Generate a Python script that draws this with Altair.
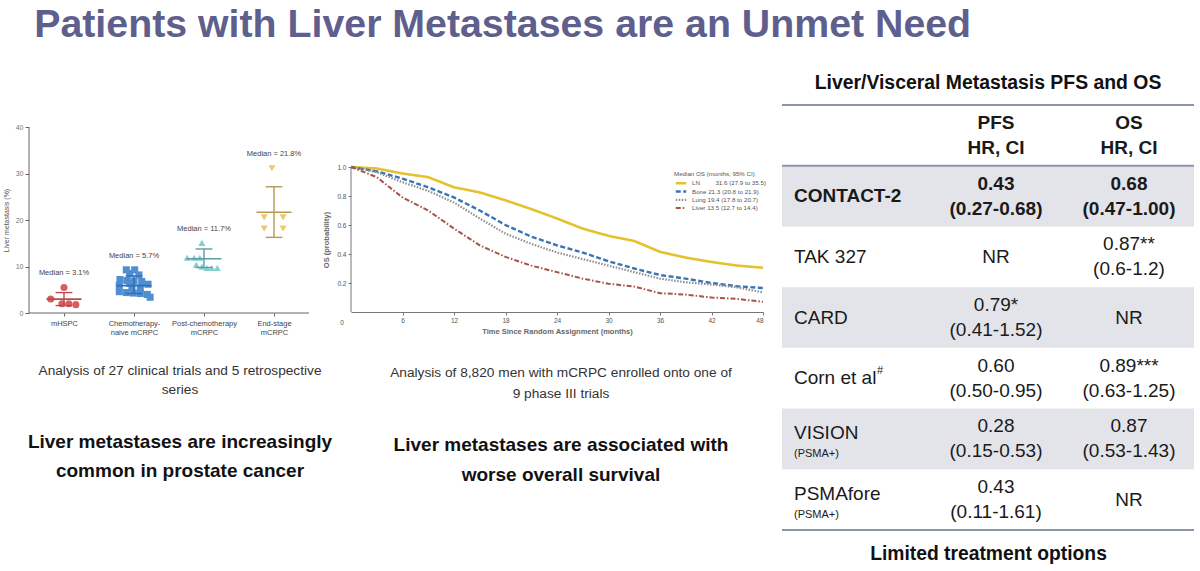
import altair as alt
import pandas as pd

NARROW = "Liberation Sans Narrow, Arial Narrow, Liberation Sans, sans-serif"
SANS = "Liberation Sans, Arial, sans-serif"

# ---------------- Left panel: liver metastasis prevalence ----------------
categories = ["mHSPC", "Chemotherapy-|naive mCRPC", "Post-chemotherapy|mCRPC", "End-stage|mCRPC"]
mhspc_vals = [5.5, 3.0, 2.0, 2.0, 1.8]
mhspc_jit = [0.0, -0.19, -0.03, 0.07, 0.17]
naive_vals = [9.3, 9.3, 8.5, 8.2, 7.2, 7.0, 6.9, 6.8, 6.2, 6.0, 6.4, 5.6, 5.4, 4.6, 4.4, 4.3, 4.2, 4.0, 3.4]
naive_jit = [-0.11, 0.01, -0.06, 0.07, -0.2, -0.1, 0.0, 0.11, 0.2, -0.21, -0.06, -0.03, 0.09, -0.21, -0.11, -0.01, 0.09, 0.19, 0.23]
post_vals = [15.1, 11.9, 11.9, 11.9, 10.4, 10.0, 9.7, 9.7, 9.7]
post_jit = [-0.03, -0.24, -0.14, -0.06, -0.11, -0.03, 0.04, 0.11, 0.19]
end_vals = [31.2, 20.6, 20.6, 18.2, 18.2]
end_jit = [-0.03, -0.14, 0.13, -0.14, 0.13]
medians = [3.0, 5.9, 11.7, 21.7]
err_low = [1.6, 4.2, 9.8, 16.3]
err_high = [4.4, 8.0, 13.8, 27.2]
median_text = ["Median = 3.1%", "Median = 5.7%", "Median = 11.7%", "Median = 21.8%"]

pt_colors = ["#d35f5f", "#4f8fd1", "#84cfd2", "#ecc96b"]
bar_colors = ["#c0474b", "#2f6fb3", "#5c9ca2", "#b39a55"]
shapes = ["circle", "square", "triangle-up", "triangle-down"]

groups = [(mhspc_vals, mhspc_jit), (naive_vals, naive_jit), (post_vals, post_jit), (end_vals, end_jit)]
pts = []
for i, (vals, jits) in enumerate(groups):
    for v, j in zip(vals, jits):
        pts.append({"idx": i, "jit": j, "value": v, "cat": categories[i]})
pts_df = pd.DataFrame(pts)
stats_df = pd.DataFrame({
    "idx": list(range(4)), "cat": categories, "med": medians, "lo": err_low, "hi": err_high,
    "label": median_text, "top": [max(g[0]) for g in groups],
})

SW, SH = 303, 208          # scatter plot box (extra room right / above the drawn axes)
label_expr = "split([" + ",".join("'" + c + "'" for c in categories) + "][datum.value], '|')"
xs = alt.Scale(domain=[-0.5, 3.5 + 23 / 70], nice=False, zero=False)
ys = alt.Scale(domain=[0, 40 * SH / 185.6], nice=False)
x_axis = alt.Axis(values=[0, 1, 2, 3], labelExpr=label_expr, labelFontSize=7.5, labelColor="#444",
                  tickSize=3, tickColor="#666", domain=False, grid=False, labelPadding=3, labelLineHeight=9,
                  labelFont=SANS)
y_axis = alt.Axis(values=[0, 10, 20, 30, 40], labelFontSize=7, labelColor="#777", tickSize=4,
                  tickColor="#666", domain=False, grid=False, title="Liver metastasis (%)", titleFontSize=7,
                  titleFontWeight="normal", titleColor="#555", titlePadding=6, titleY=115,
                  labelFont=SANS, titleFont=SANS)

base_pts = alt.Chart(pts_df).transform_calculate(xpos="datum.idx + datum.jit")
points = base_pts.mark_point(filled=True, opacity=1, size=50, strokeWidth=0).encode(
    x=alt.X("xpos:Q", scale=xs, axis=x_axis, title=None),
    y=alt.Y("value:Q", scale=ys, axis=y_axis),
    fill=alt.Fill("cat:N", scale=alt.Scale(domain=categories, range=pt_colors), legend=None),
    shape=alt.Shape("cat:N", scale=alt.Scale(domain=categories, range=shapes), legend=None),
)
axis_df = pd.DataFrame({"a": [0]})
x_line = alt.Chart(axis_df).mark_rule(color="#666", strokeWidth=1).encode(
    x=alt.datum(-0.5), x2=alt.datum(3.5), y=alt.datum(0))
y_line = alt.Chart(axis_df).mark_rule(color="#666", strokeWidth=1).encode(
    x=alt.datum(-0.5), y=alt.datum(0), y2=alt.datum(40))
sbase = alt.Chart(stats_df).transform_calculate(
    xl="datum.idx - 0.25", xr="datum.idx + 0.25", cl="datum.idx - 0.12", cr="datum.idx + 0.12")
bar_stroke = alt.Stroke("cat:N", scale=alt.Scale(domain=categories, range=bar_colors), legend=None)
med_rule = sbase.mark_rule(strokeWidth=1.6).encode(x="xl:Q", x2="xr:Q", y="med:Q", stroke=bar_stroke)
err_rule = sbase.mark_rule(strokeWidth=1.4).encode(x="idx:Q", y="lo:Q", y2="hi:Q", stroke=bar_stroke)
caps = sbase.transform_fold(["lo", "hi"], as_=["k", "v"]).mark_rule(strokeWidth=1.4).encode(
    x="cl:Q", x2="cr:Q", y="v:Q", stroke=bar_stroke)
med_lbl = sbase.mark_text(dy=-14, fontSize=7.5, color="#444", font=SANS).encode(
    x="idx:Q", y="top:Q", text="label:N")

scatter = alt.layer(points, x_line, y_line, med_rule, err_rule, caps, med_lbl).properties(
    width=SW, height=SH,
    title=alt.TitleParams(
        text=["Analysis of 27 clinical trials and 5 retrospective", "series"],
        subtitle=["Liver metastases are increasingly", "common in prostate cancer"],
        orient="bottom", anchor="middle", dx=-0.5, offset=28,
        font=NARROW, fontSize=13.7, fontWeight="normal", color="#333", lineHeight=19,
        subtitleFont=NARROW, subtitleFontSize=19, subtitleFontWeight="bold", subtitleColor="#111",
        subtitleLineHeight=28.5, subtitlePadding=37,
    ),
)

# ---------------- Middle panel: overall survival by metastatic site ----------------
km_months = [0, 3, 6, 9, 12, 15, 18, 21, 24, 27, 30, 33, 36, 39, 42, 45, 48]
os_ln = [1.0, 0.99, 0.955, 0.93, 0.86, 0.825, 0.77, 0.71, 0.645, 0.575, 0.525, 0.49, 0.415, 0.375, 0.345, 0.32, 0.305]
os_bone = [1.0, 0.97, 0.92, 0.86, 0.79, 0.70, 0.60, 0.52, 0.46, 0.41, 0.35, 0.30, 0.255, 0.23, 0.20, 0.178, 0.165]
os_lung = [1.0, 0.965, 0.895, 0.835, 0.755, 0.645, 0.54, 0.47, 0.41, 0.365, 0.32, 0.275, 0.23, 0.205, 0.19, 0.17, 0.135]
os_liver = [1.0, 0.93, 0.79, 0.70, 0.575, 0.46, 0.38, 0.32, 0.275, 0.23, 0.195, 0.175, 0.13, 0.12, 0.10, 0.09, 0.07]
km_series = ["LN", "Bone", "Lung", "Liver"]
km_median = ["31.6 (27.9 to 35.5)", "21.3 (20.8 to 21.9)", "19.4 (17.8 to 20.7)", "13.5 (12.7 to 14.4)"]
km_pad = [9, 1, 1, 1]
km_labels = [s + "\u00a0" * p + m for s, p, m in zip(km_series, km_pad, km_median)]
km_colors = ["#e6c12e", "#3a74b4", "#8e8e8e", "#a8524a"]
km_dash = [[1, 0], [5, 2.5], [1.5, 1.5], [5, 2, 1.5, 2]]
km_width = [2.6, 2.0, 1.5, 1.5]

km_rows = []
for lab, ser in zip(km_labels, [os_ln, os_bone, os_lung, os_liver]):
    for m, v in zip(km_months, ser):
        km_rows.append({"month": m, "os": v, "grp": lab})
km_df = pd.DataFrame(km_rows)

KW, KH = 412, 207
km_legend = alt.Legend(title="Median OS (months, 95% CI)", orient="none", legendX=323, legendY=66,
                       symbolType="stroke", symbolSize=110, symbolStrokeWidth=1.6, labelFontSize=6.2,
                       titleFontSize=6.2, titleFontWeight="normal", labelColor="#555", titleColor="#555",
                       rowPadding=0.3, clipHeight=8, padding=0, titlePadding=2, labelOffset=4,
                       labelFont=SANS, titleFont=SANS)
km_x = alt.X("month:Q", scale=alt.Scale(domain=[0, 48], nice=False),
             axis=alt.Axis(values=list(range(6, 49, 6)), labelFontSize=6.5, labelColor="#555", tickSize=3,
                           tickColor="#777", domainColor="#777", grid=False,
                           title="Time Since Random Assignment (months)",
                           titleFontSize=7.5, titleFontWeight=600, titleColor="#666", titlePadding=4,
                           labelFont=SANS, titleFont=SANS))
km_y = alt.Y("os:Q", scale=alt.Scale(domain=[0, KH / 145.0], nice=False),
             axis=alt.Axis(values=[0.2, 0.4, 0.6, 0.8, 1.0], format=".1f", labelFontSize=6.5, labelColor="#555",
                           tickSize=3, tickColor="#777", domain=False, grid=False, title="OS (probability)",
                           titleFontSize=7.5, titleFontWeight=600, titleColor="#666", titlePadding=6,
                           titleY=134.5, labelFont=SANS, titleFont=SANS))
km_lines = alt.Chart(km_df).mark_line().encode(
    x=km_x, y=km_y,
    color=alt.Color("grp:N", scale=alt.Scale(domain=km_labels, range=km_colors), legend=km_legend),
    strokeDash=alt.StrokeDash("grp:N", scale=alt.Scale(domain=km_labels, range=km_dash), legend=km_legend),
    strokeWidth=alt.StrokeWidth("grp:N", scale=alt.Scale(domain=km_labels, range=km_width), legend=None),
)
km_yline = alt.Chart(axis_df).mark_rule(color="#777", strokeWidth=1).encode(
    x=alt.datum(0), y=alt.datum(0), y2=alt.datum(1))
origin = alt.Chart(pd.DataFrame({"month": [0], "os": [0], "t": ["0"]})).mark_text(
    dx=-9, dy=11, fontSize=6.5, color="#555", font=SANS).encode(x="month:Q", y="os:Q", text="t:N")

km = alt.layer(km_lines, km_yline, origin).properties(
    width=KW, height=KH,
    title=alt.TitleParams(
        text=["Analysis of 8,820 men with mCRPC enrolled onto one of", "9 phase III trials"],
        subtitle=["Liver metastases are associated with", "worse overall survival"],
        orient="bottom", anchor="middle", dx=4, offset=31,
        font=NARROW, fontSize=13.7, fontWeight="normal", color="#333", lineHeight=21,
        subtitleFont=NARROW, subtitleFontSize=19, subtitleFontWeight="bold", subtitleColor="#111",
        subtitleLineHeight=30, subtitlePadding=35,
    ),
)

# ---------------- Right panel: table ----------------
studies = ["CONTACT-2", "TAK 327", "CARD", "Corn et al", "VISION", "PSMAfore"]
study_sub = ["", "", "", "", "(PSMA+)", "(PSMA+)"]
study_sup = ["", "", "", "#", "", ""]
pfs_vals = ["0.43|(0.27-0.68)", "NR", "0.79*|(0.41-1.52)", "0.60|(0.50-0.95)", "0.28|(0.15-0.53)", "0.43|(0.11-1.61)"]
os_vals = ["0.68|(0.47-1.00)", "0.87**|(0.6-1.2)", "NR", "0.89***|(0.63-1.25)", "0.87|(0.53-1.43)", "NR"]
headers = ["PFS|HR, CI", "OS|HR, CI"]

TW, TH = 412, 425
cell_rows = [{"row": 0, "col": 1, "text": headers[0], "bold": True},
             {"row": 0, "col": 2, "text": headers[1], "bold": True}]
for r, (p, o) in enumerate(zip(pfs_vals, os_vals), start=1):
    cell_rows.append({"row": r, "col": 1, "text": p, "bold": r == 1})
    cell_rows.append({"row": r, "col": 2, "text": o, "bold": r == 1})
cells_df = pd.DataFrame(cell_rows)
lab_df = pd.DataFrame({"row": list(range(1, 7)), "col": [0] * 6, "label": studies,
                       "sub": study_sub, "sup": study_sup, "bold": [True] + [False] * 5})
band_df = pd.DataFrame({"row": [1, 3, 5]})
rule_df = pd.DataFrame({"row": [0, 1, 7]})

col_scale = alt.Scale(domain=[0, 1, 2], range=[12, 214, 347], nice=False, zero=False)
row_scale = alt.Scale(domain=[0, 7], reverse=True, nice=False)
HALF = 12.5 / (TH / 7.0)
tx = alt.X("col:Q", scale=col_scale,
           axis=alt.Axis(labels=False, ticks=False, domain=False, grid=False,
                         title="Limited treatment options", titleFontSize=19.3, titleFontWeight="bold",
                         titleColor="#111", titlePadding=14, titleX=TW / 2, titleFont=NARROW))

bands = alt.Chart(band_df).transform_calculate(r2="datum.row + 1").mark_rect(color="#e3e4ea").encode(
    y=alt.Y("row:Q", scale=row_scale, axis=None), y2="r2:Q", x=alt.value(0), x2=alt.value(TW))
rules = alt.Chart(rule_df).mark_rule(color="#8c94a8", strokeWidth=2).encode(
    y=alt.Y("row:Q", scale=row_scale, axis=None), x=alt.value(0), x2=alt.value(TW))
cbase = alt.Chart(cells_df).transform_calculate(lines="split(datum.text, '|')").transform_calculate(
    ym=f"datum.row + 0.5 - (length(datum.lines) - 1) * {HALF}")
cells_b = cbase.transform_filter("datum.bold").mark_text(
    fontSize=19, fontWeight="bold", font=SANS, color="#1a1a1a", lineHeight=25, baseline="middle").encode(
    x=tx, y=alt.Y("ym:Q", scale=row_scale, axis=None), text="lines:N")
cells_n = cbase.transform_filter("!datum.bold").mark_text(
    fontSize=19, font=SANS, color="#1a1a1a", lineHeight=25, baseline="middle").encode(
    x=tx, y=alt.Y("ym:Q", scale=row_scale, axis=None), text="lines:N")
lbase = alt.Chart(lab_df).transform_calculate(
    ym="datum.row + 0.5 - (datum.sub != '' ? 0.1 : 0)", ys="datum.row + 0.75")
lab_b = lbase.transform_filter("datum.bold").mark_text(
    fontSize=19, fontWeight="bold", font=SANS, color="#1a1a1a", align="left", baseline="middle").encode(
    x=tx, y=alt.Y("ym:Q", scale=row_scale, axis=None), text="label:N")
lab_n = lbase.transform_filter("!datum.bold").mark_text(
    fontSize=19, font=SANS, color="#1a1a1a", align="left", baseline="middle").encode(
    x=tx, y=alt.Y("ym:Q", scale=row_scale, axis=None), text="label:N")
lab_sub = lbase.transform_filter("datum.sub != ''").mark_text(
    fontSize=11, font=SANS, color="#1a1a1a", align="left", baseline="middle").encode(
    x=tx, y=alt.Y("ys:Q", scale=row_scale, axis=None), text="sub:N")
lab_sup = lbase.transform_filter("datum.sup != ''").mark_text(
    fontSize=11, font=SANS, color="#1a1a1a", align="left", baseline="middle", dx=83, dy=-7).encode(
    x=tx, y=alt.Y("ym:Q", scale=row_scale, axis=None), text="sup:N")

table = alt.layer(bands, rules, cells_b, cells_n, lab_b, lab_n, lab_sub, lab_sup).properties(
    width=TW, height=TH,
    title=alt.TitleParams("Liver/Visceral Metastasis PFS and OS", fontSize=19.4, fontWeight="bold",
                          font=NARROW, color="#111", anchor="middle", offset=11),
)

indep = dict(color="independent", fill="independent", stroke="independent", shape="independent",
             strokeDash="independent", strokeWidth="independent")

chart = alt.hconcat(scatter, km, table, spacing=19, bounds="flush").resolve_scale(**indep).properties(
    title=alt.TitleParams("Patients with Liver Metastases are an Unmet Need", fontSize=39.3, fontWeight="bold",
                          font=NARROW, color="#5f5f8e", anchor="start", dx=32, offset=27),
    padding={"left": 2, "top": 6, "right": 0, "bottom": 0},
).configure(background="white").configure_view(strokeWidth=0).configure_axis(grid=False)

chart.save("out.html", embed_options={"renderer": "svg", "actions": False})
